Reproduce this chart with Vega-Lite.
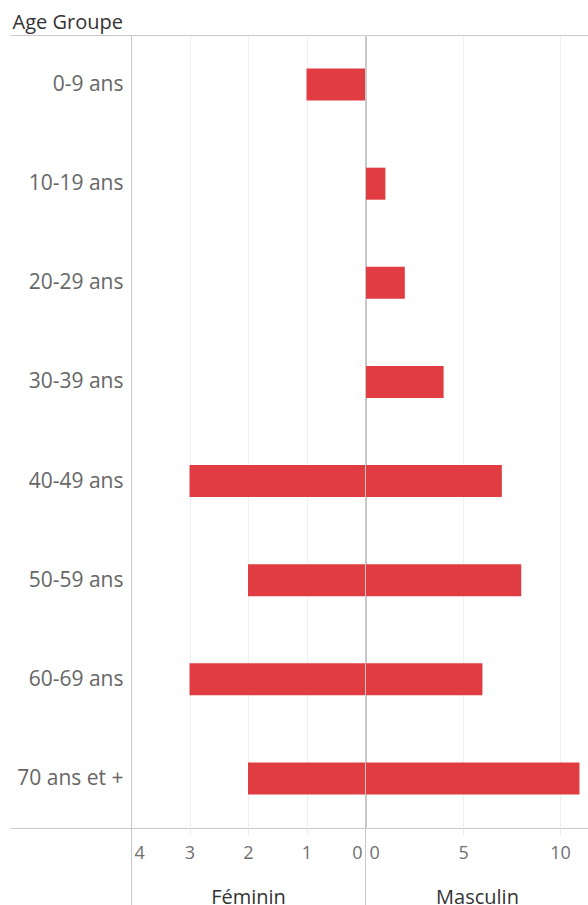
{
  "$schema": "https://vega.github.io/schema/vega-lite/v6.json",
  "padding": {"left": 9, "top": 11, "right": 0, "bottom": 0},
  "spacing": -1,
  "config": {
    "font": "Open Sans",
    "view": {"stroke": "#c8c8c8"},
    "axis": {"labelFont": "Open Sans", "titleFont": "Open Sans"}
  },
  "data": {
    "values": [
      {"age": "0-9 ans", "sexe": "Féminin", "n": 1},
      {"age": "10-19 ans", "sexe": "Féminin", "n": 0},
      {"age": "20-29 ans", "sexe": "Féminin", "n": 0},
      {"age": "30-39 ans", "sexe": "Féminin", "n": 0},
      {"age": "40-49 ans", "sexe": "Féminin", "n": 3},
      {"age": "50-59 ans", "sexe": "Féminin", "n": 2},
      {"age": "60-69 ans", "sexe": "Féminin", "n": 3},
      {"age": "70 ans et +", "sexe": "Féminin", "n": 2},
      {"age": "0-9 ans", "sexe": "Masculin", "n": 0},
      {"age": "10-19 ans", "sexe": "Masculin", "n": 1},
      {"age": "20-29 ans", "sexe": "Masculin", "n": 2},
      {"age": "30-39 ans", "sexe": "Masculin", "n": 4},
      {"age": "40-49 ans", "sexe": "Masculin", "n": 7},
      {"age": "50-59 ans", "sexe": "Masculin", "n": 8},
      {"age": "60-69 ans", "sexe": "Masculin", "n": 6},
      {"age": "70 ans et +", "sexe": "Masculin", "n": 11}
    ]
  },
  "hconcat": [
    {
      "width": 234,
      "height": 793,
      "transform": [{"filter": "datum.sexe === 'Féminin'"}],
      "mark": {"type": "bar", "color": "#e03c42", "height": {"band": 0.323}},
      "encoding": {
        "y": {
          "field": "age", "type": "nominal",
          "sort": ["0-9 ans", "10-19 ans", "20-29 ans", "30-39 ans", "40-49 ans", "50-59 ans", "60-69 ans", "70 ans et +"],
          "scale": {"paddingInner": 0, "paddingOuter": 0},
          "axis": {
            "title": "Age Groupe",
            "titleAngle": 0, "titleAlign": "left", "titleBaseline": "alphabetic",
            "titleX": -119, "titleY": -7,
            "titleFontSize": 20, "titleFontWeight": "normal", "titleColor": "#333333",
            "labelFontSize": 21, "labelColor": "#666666", "labelPadding": -113,
            "tickSize": 121, "tickBand": "extent",
            "tickColor": {"condition": {"test": "datum.extra || datum.value === '70 ans et +'", "value": "#c8c8c8"}, "value": "transparent"},
            "domain": false, "grid": false
          }
        },
        "x": {
          "field": "n", "type": "quantitative",
          "scale": {"domain": [0, 4], "reverse": true, "nice": false},
          "axis": {
            "values": [0, 1, 2, 3, 4], "format": "d",
            "title": "Féminin", "titleFontSize": 20, "titleFontWeight": "normal", "titleColor": "#333333",
            "titleBaseline": "alphabetic", "titleY": 75,
            "labelFontSize": 18, "labelColor": "#707070", "labelFlush": true, "labelFlushOffset": -3, "labelPadding": -60.5,
            "tickSize": 77,
            "tickColor": {"condition": {"test": "datum.value === 0 || datum.value === 4", "value": "#c8c8c8"}, "value": "#ececec"},
            "tickDash": {"condition": {"test": "datum.value === 0 || datum.value === 4", "value": []}, "value": [7, 200]},
            "grid": true,
            "gridColor": {"condition": {"test": "datum.value === 0 || datum.value === 4", "value": "transparent"}, "value": "#efefef"},
            "domain": false
          }
        }
      }
    },
    {
      "width": 222,
      "height": 793,
      "transform": [{"filter": "datum.sexe === 'Masculin'"}],
      "mark": {"type": "bar", "color": "#e03c42", "height": {"band": 0.323}},
      "encoding": {
        "y": {
          "field": "age", "type": "nominal",
          "sort": ["0-9 ans", "10-19 ans", "20-29 ans", "30-39 ans", "40-49 ans", "50-59 ans", "60-69 ans", "70 ans et +"],
          "scale": {"paddingInner": 0, "paddingOuter": 0},
          "axis": null
        },
        "x": {
          "field": "n", "type": "quantitative",
          "scale": {"domain": [0, 11.44], "nice": false},
          "axis": {
            "values": [0, 5, 10], "format": "d",
            "title": "Masculin", "titleFontSize": 20, "titleFontWeight": "normal", "titleColor": "#333333",
            "titleBaseline": "alphabetic", "titleY": 75,
            "labelFontSize": 18, "labelColor": "#707070", "labelFlush": true, "labelFlushOffset": -3, "labelPadding": -60.5,
            "tickSize": 77,
            "tickColor": {"condition": {"test": "datum.value === 0", "value": "transparent"}, "value": "#ececec"},
            "tickDash": [7, 200],
            "grid": true,
            "gridColor": {"condition": {"test": "datum.value === 0", "value": "transparent"}, "value": "#efefef"},
            "domain": false
          }
        }
      }
    }
  ]
}
